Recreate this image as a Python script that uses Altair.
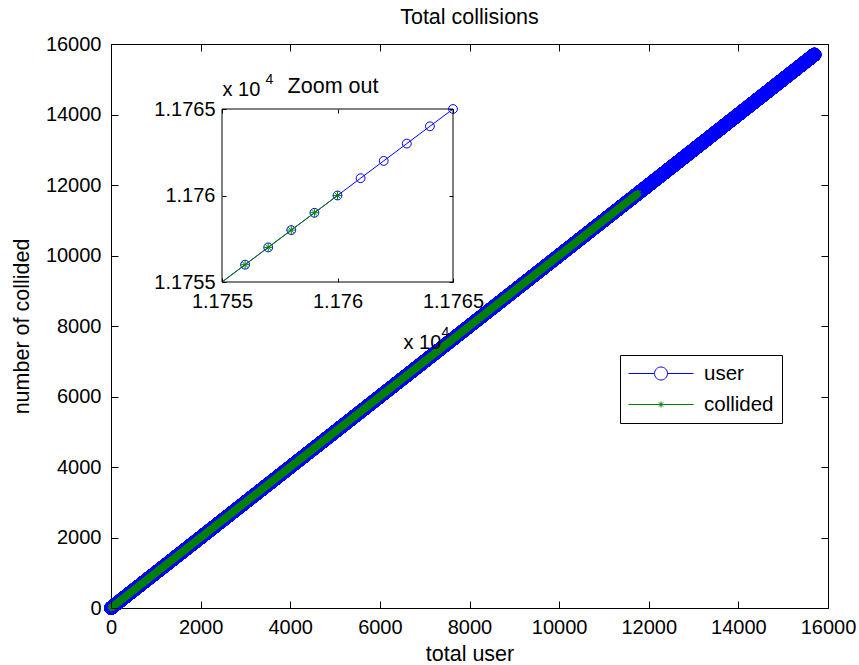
import altair as alt
import pandas as pd

# ---------------- data ----------------
USER_TOTAL = 15700          # last "total user" value of the blue series
COLLIDED_TOTAL = 11760      # last value of the green "collided" series
MAIN_DOMAIN = [0, 16000]
MAIN_TICKS = [0, 2000, 4000, 6000, 8000, 10000, 12000, 14000, 16000]
INSET_DOMAIN = [11755, 11765]
INSET_TICKS = [11755, 11760, 11765]
INSET_FIRST_MARKER = 11756
SERIES = ["user", "collided"]
COLORS = ["#0000ff", "#008000"]

user = pd.DataFrame({"total": list(range(1, USER_TOTAL + 1))})
user["collided"] = user["total"]
coll = user[user["total"] <= COLLIDED_TOTAL].copy()
box = pd.DataFrame({"x0": [INSET_DOMAIN[0]], "x1": [INSET_DOMAIN[1]],
                    "y0": [INSET_DOMAIN[0]], "y1": [INSET_DOMAIN[1]]})
leg_df = pd.DataFrame({"series": SERIES})

# ---------------- layout / style ----------------
FONT = "Liberation Sans"
W, H = 717, 564
IX = [111, 342]      # inset pixel range (x)
IY = [238, 65]       # inset pixel range (y)
BLUE, GREEN = COLORS
TICK_FS = 20
TITLE_FS = 21.5
EXP_FS = 20
SUP_FS = 14

ASTERISK = "M-1,0L1,0M0,-1L0,1M-0.7,-0.7L0.7,0.7M-0.7,0.7L0.7,-0.7"
PATH_USER = ("M-1,0L1.6,0M2.9,0L5.5,0"
             "M2.9,0A0.65,0.65,0,1,1,1.6,0A0.65,0.65,0,1,1,2.9,0")
PATH_COLL = ("M-1,0L5.5,0M1.95,0L2.55,0M2.25,-0.3L2.25,0.3"
             "M2.04,-0.21L2.46,0.21M2.04,0.21L2.46,-0.21")

base = dict(grid=False, labelColor="black", tickColor="black", domainColor="black",
            titleColor="black", labelFont=FONT, titleFont=FONT,
            titleFontWeight="normal", zindex=1, labelFlush=False, labelOverlap=False)


def mx():
    return alt.Scale(domain=MAIN_DOMAIN, nice=False, zero=False)


def ix():
    return alt.Scale(domain=INSET_DOMAIN, range=IX, nice=False, zero=False)


def iy():
    return alt.Scale(domain=INSET_DOMAIN, range=IY, nice=False, zero=False)


def tick_axis(orient, offset, values, size, **kw):
    d = dict(base)
    d.update(kw)
    if "title" not in d:
        d["title"] = None
    return alt.Axis(orient=orient, offset=offset, values=values, labels=False,
                    domain=False, ticks=True, tickSize=size, tickWidth=1, **d)


# main axes
lab_x = alt.Axis(orient="bottom", values=MAIN_TICKS, format="d", ticks=False, tickSize=0,
                 domain=False, labelPadding=9, labelFontSize=TICK_FS,
                 title="total user", titleFontSize=TITLE_FS, titleY=52,
                 titleBaseline="alphabetic", **base)
lab_y = alt.Axis(orient="left", values=MAIN_TICKS, format="d", ticks=False, tickSize=0,
                 domain=False, labelPadding=10, labelFontSize=TICK_FS,
                 title="number of collided", titleFontSize=TITLE_FS, titleX=-83, titleY=H / 2,
                 titleAngle=270, titleAlign="center", titleBaseline="alphabetic", **base)

m_blue_pts = alt.Chart(user).mark_point(
    shape="circle", filled=False, size=170, color=BLUE, strokeWidth=1, opacity=1
).encode(
    x=alt.X("total:Q", scale=mx(), axis=lab_x),
    y=alt.Y("collided:Q", scale=mx(), axis=lab_y),
)
m_blue_line = alt.Chart(user).mark_line(color=BLUE, strokeWidth=1).encode(
    x=alt.X("total:Q", scale=mx(), axis=tick_axis("top", -H, MAIN_TICKS, 7)),
    y=alt.Y("collided:Q", scale=mx(), axis=tick_axis("right", -W, MAIN_TICKS, 7)),
)
m_green_line = alt.Chart(coll).mark_line(color=GREEN, strokeWidth=1).encode(
    x=alt.X("total:Q", scale=mx(), axis=tick_axis("bottom", -H, MAIN_TICKS, 7)),
    y=alt.Y("collided:Q", scale=mx(), axis=tick_axis("left", -W, MAIN_TICKS, 7)),
)
m_green_pts = alt.Chart(coll).mark_point(
    shape=ASTERISK, filled=False, size=42, color=GREEN, strokeWidth=1, opacity=1
).encode(
    x=alt.X("total:Q", scale=mx(), axis=None),
    y=alt.Y("collided:Q", scale=mx(), axis=None),
)

# inset
in_lab_x = alt.Axis(orient="bottom", offset=IY[0] - H, values=INSET_TICKS,
                    labelExpr="datum.value / 10000", ticks=False, tickSize=0, domain=False,
                    labelPadding=9, labelFontSize=TICK_FS,
                    title="x 10", titleFontSize=EXP_FS, titleX=292, titleY=60,
                    titleAlign="left", titleBaseline="middle", **base)
in_lab_y = alt.Axis(orient="left", offset=-IX[0], values=INSET_TICKS,
                    labelExpr="datum.value / 10000", ticks=False, tickSize=0, domain=False,
                    labelPadding=7, labelFontSize=TICK_FS,
                    title="x 10", titleFontSize=EXP_FS, titleX=0, titleY=45, titleAngle=0,
                    titleAlign="left", titleBaseline="middle", **base)

i_box = alt.Chart(box).mark_rect(fill="white", stroke="black", strokeWidth=1).encode(
    x=alt.X("x0:Q", scale=ix(), axis=in_lab_x), x2="x1:Q",
    y=alt.Y("y0:Q", scale=iy(), axis=in_lab_y), y2="y1:Q",
)
inset_line_filter = alt.FieldRangePredicate(field="total", range=INSET_DOMAIN)
inset_pts_filter = alt.FieldRangePredicate(field="total", range=[INSET_FIRST_MARKER, INSET_DOMAIN[1]])

i_blue_line = alt.Chart(user).transform_filter(inset_line_filter).mark_line(
    color=BLUE, strokeWidth=1
).encode(
    x=alt.X("total:Q", scale=ix(),
            axis=tick_axis("bottom", IY[1] - H, INSET_TICKS, 4,
                           title="Zoom out", titleFontSize=TITLE_FS, titleX=221.5, titleY=-17,
                           titleAlign="center", titleBaseline="alphabetic")),
    y=alt.Y("collided:Q", scale=iy(), axis=tick_axis("left", -IX[1], INSET_TICKS, 4)),
)
i_blue_pts = alt.Chart(user).transform_filter(inset_pts_filter).mark_point(
    shape="circle", filled=False, size=78, color=BLUE, strokeWidth=1, opacity=1
).encode(
    x=alt.X("total:Q", scale=ix(),
            axis=tick_axis("top", -IY[0], INSET_TICKS, 4,
                           title="4", titleFontSize=SUP_FS, titleX=334, titleY=50,
                           titleAlign="center", titleBaseline="middle")),
    y=alt.Y("collided:Q", scale=iy(),
            axis=tick_axis("right", IX[0] - W, INSET_TICKS, 4,
                           title="4", titleFontSize=SUP_FS, titleX=47, titleY=35, titleAngle=0,
                           titleAlign="center", titleBaseline="middle")),
)
i_green_line = alt.Chart(coll).transform_filter(inset_line_filter).mark_line(
    color=GREEN, strokeWidth=1
).encode(
    x=alt.X("total:Q", scale=ix(), axis=None),
    y=alt.Y("collided:Q", scale=iy(), axis=None),
)
i_green_pts = alt.Chart(coll).transform_filter(inset_pts_filter).mark_point(
    shape=ASTERISK, filled=False, size=81, color=GREEN, strokeWidth=1, opacity=1
).encode(
    x=alt.X("total:Q", scale=ix(), axis=None),
    y=alt.Y("collided:Q", scale=iy(), axis=None),
)

# legend (scale domains give the entries)
leg = alt.Legend(orient="none", legendX=509, legendY=311, title=None, padding=8,
                 strokeColor="black", fillColor="white", labelFontSize=20.5, labelFont=FONT,
                 labelColor="black", labelOffset=55, rowPadding=10, symbolSize=400,
                 symbolStrokeWidth=1, direction="vertical", cornerRadius=0)
legend_layer = alt.Chart(leg_df).transform_filter("false").mark_point(
    filled=False, size=400, strokeWidth=1, opacity=1
).encode(
    color=alt.Color("series:N", scale=alt.Scale(domain=SERIES, range=COLORS), legend=leg),
    shape=alt.Shape("series:N", scale=alt.Scale(domain=SERIES, range=[PATH_USER, PATH_COLL]),
                    legend=leg),
)

chart = alt.layer(
    m_blue_pts, m_blue_line, m_green_line, m_green_pts,
    i_box, i_blue_line, i_blue_pts, i_green_line, i_green_pts,
    legend_layer,
).resolve_scale(x="independent", y="independent").properties(
    width=W, height=H,
    title=alt.TitleParams("Total collisions", fontSize=TITLE_FS, font=FONT,
                          fontWeight="normal", color="black", anchor="middle", offset=6),
    autosize=alt.AutoSizeParams(type="none"),
    padding={"left": 111, "top": 44, "right": 31, "bottom": 57},
    background="white",
).configure_view(stroke="black", strokeWidth=1)

chart.save("out.html", embed_options={"renderer": "svg", "actions": False})
